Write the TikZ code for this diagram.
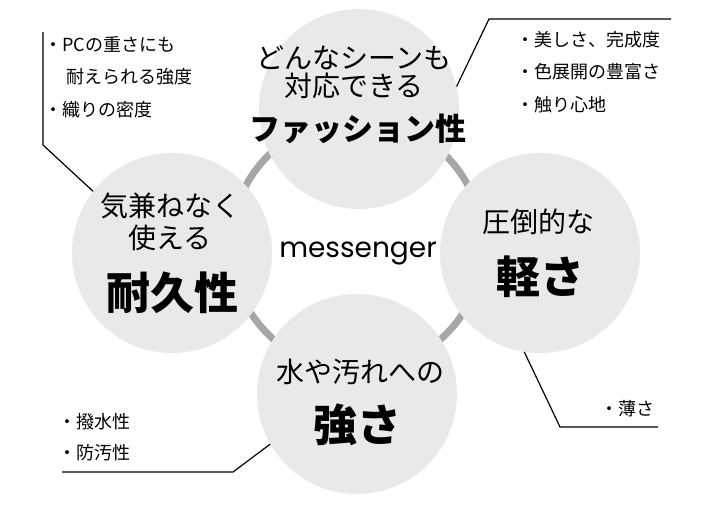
\documentclass[tikz,border=0pt]{standalone}
\usepackage{fontspec}
\newfontfamily\jpfont{Noto Sans CJK JP}
\newfontfamily\brandfont{Poppins}
\usepackage{tikz}
\usetikzlibrary{positioning}
\definecolor{disc}{RGB}{233, 233, 233}
\definecolor{ringgray}{RGB}{166, 166, 166}
\tikzstyle{feature} = [circle, fill=disc, minimum size=200pt, inner sep=0pt]
\tikzstyle{tagline} = [font=\jpfont\fontsize{28}{28}\selectfont, align=center, inner sep=0pt]
\tikzstyle{headline} = [font=\jpfont\bfseries\fontsize{44}{44}\selectfont, inner sep=0pt]
\tikzstyle{notes} = [font=\jpfont\fontsize{18}{32.5}\selectfont, align=left, anchor=west, inner sep=0pt]
\tikzstyle{callout} = [draw, line width=1.2pt]
\tikzstyle{ring} = [draw=ringgray, line width=7pt]

\begin{document}
\begin{tikzpicture}[x=1pt, y=-1pt]
\useasboundingbox (0,0) rectangle (712,504);

% ring =============================
\coordinate (hub) at (357,245);
\path[ring] (hub) circle (126);

% circles
\node[feature] (fashion) at (359,109) {};
\node[feature] (durable) at (172,253) {};
\node[feature] (light)   at (540,253) {};
\node[feature] (strong)  at (357,394) {};

\node[font=\brandfont\fontsize{28}{28}\selectfont, inner sep=0pt] (brand) at (358,253) {messenger};

% texts in circles
\node[tagline] (fashion-sub) at (354,72) {どんなシーンも\\対応できる};
\node[headline, font=\jpfont\bfseries\fontsize{31}{31}\selectfont] (fashion-title) at (358,129) {ファッション性};

\node[tagline, font=\jpfont\fontsize{28}{32}\selectfont] (durable-sub) at (170,222) {気兼ねなく\\使える};
\node[headline] (durable-title) at (172,293) {耐久性};

\node[tagline] (light-sub) at (538,222) {圧倒的な};
\node[headline] (light-title) at (540,277) {軽さ};

\node[tagline] (strong-sub) at (360,372) {水や汚れへの};
\node[headline] (strong-title) at (357,425) {強さ};

% notes
\node[notes] (durable-notes) at (44,77) {・PCの重さにも\\\hspace*{22pt}耐えられる強度\\・織りの密度};
\node[notes] (fashion-notes) at (516,72) {・美しさ、完成度\\・色展開の豊富さ\\・触り心地};
\node[notes] (light-notes) at (600,409) {・薄さ};
\node[notes, font=\jpfont\fontsize{18}{31}\selectfont] (strong-notes) at (58,437) {・撥水性\\・防汚性};

% callout lines
\coordinate (durable-bend) at (43,145);
\coordinate (durable-end) at (43,32);
\path[callout] (durable.142) -- (durable-bend) -- (durable-end);

\coordinate (fashion-bend) at (489,19);
\coordinate (fashion-end) at (671,19);
\path[callout] (fashion.13) -- (fashion-bend) -- (fashion-end);

\coordinate (light-bend) at (560,427);
\coordinate (light-end) at (658,427);
\path[callout] (light.261) -- (light-bend) -- (light-end);

\coordinate (strong-bend) at (233,472);
\coordinate (strong-end) at (62,472);
\path[callout] (strong.210) -- (strong-bend) -- (strong-end);

\end{tikzpicture}
\end{document}
